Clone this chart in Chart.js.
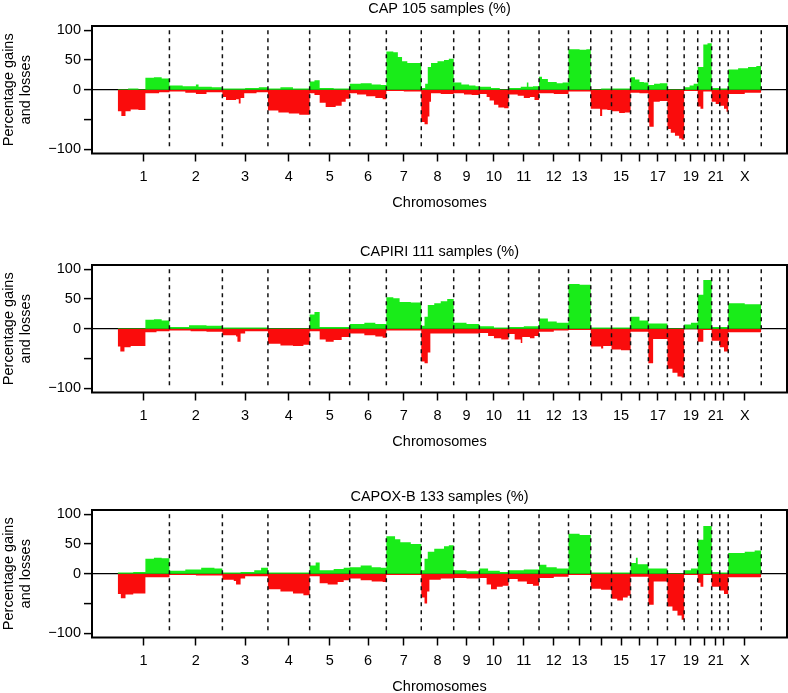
<!DOCTYPE html>
<html><head><meta charset="utf-8">
<script src="https://cdn.jsdelivr.net/npm/chart.js@4/dist/chart.umd.min.js"></script>
<style>
html,body{margin:0;padding:0;background:#fff;overflow:hidden;width:788px;height:693px;}
.panel{position:absolute;left:0;width:788px;height:212px;}
canvas{display:block;}
</style></head><body>
<div class="panel" style="top:0px"><canvas id="c1" width="788" height="212"></canvas></div>
<div class="panel" style="top:239px"><canvas id="c2" width="788" height="212"></canvas></div>
<div class="panel" style="top:484px"><canvas id="c3" width="788" height="212"></canvas></div>
<script>
// ---------- data ----------
const chromosomes = ['1','2','3','4','5','6','7','8','9','10','11','12','13','14','15','16','17','18','19','20','21','22','X'];
// genomic span of each chromosome on the plot (Mb)
const chromSpanMb = [244,250,215,197,189,173,165,153,121,138,144,139,105,98,90,84,90,79,64,66,38,40,156];
const xTickLabels = ['1','2','3','4','5','6','7','8','9','10','11','12','13','','15','','17','','19','','21','','X'];
const yTickValues = [-100,-50,0,50,100];
const yTickLabels = ['\u2212100','','0','50','100'];
const panelTitles = ['CAP 105 samples (%)','CAPIRI 111 samples (%)','CAPOX-B 133 samples (%)'];

// per chromosome: [relative position along chromosome (0-1), percentage] segments
const capGain = [
 [[0,1],[0.2,2],[0.4,1],[0.535,20],[0.7,21],[0.85,19]],
 [[0,7],[0.25,6],[0.5,9],[0.55,5],[0.8,4]],
 [[0,2],[0.5,3],[0.8,4]],
 [[0,2],[0.3,4],[0.6,2]],
 [[0,14],[0.12,16],[0.25,3],[0.6,2]],
 [[0,10],[0.3,11],[0.6,9],[0.85,8]],
 [[0,64],[0.2,63],[0.33,55],[0.45,48],[0.6,45]],
 [[0,3],[0.12,10],[0.2,38],[0.3,45],[0.5,48],[0.7,50],[0.85,52]],
 [[0,12],[0.3,9],[0.6,7],[0.85,6]],
 [[0,5],[0.4,3],[0.7,1]],
 [[0,3],[0.4,5],[0.6,12],[0.65,5],[0.8,6]],
 [[0,22],[0.1,18],[0.3,13],[0.6,11],[0.8,12]],
 [[0,68],[0.5,67],[0.8,68]],
 [[0,1],[0.5,2]],
 [[0,2]],
 [[0,21],[0.25,17],[0.5,13],[0.75,12]],
 [[0,8],[0.3,10],[0.6,11]],
 [[0,1]],
 [[0,4],[0.4,7],[0.7,10]],
 [[0,38],[0.4,76],[0.7,78]],
 [[0,3]],
 [[0,2]],
 [[0,34],[0.3,36],[0.6,38],[0.85,40]]
];
const capLoss = [
 [[0,-36],[0.07,-44],[0.15,-36],[0.25,-33],[0.4,-34],[0.535,-6],[0.8,-4]],
 [[0,-3],[0.3,-5],[0.5,-7],[0.7,-4]],
 [[0,-12],[0.08,-17],[0.3,-16],[0.36,-23],[0.4,-14],[0.48,-6],[0.75,-4]],
 [[0,-35],[0.25,-38],[0.5,-40],[0.75,-42]],
 [[0,-6],[0.12,-9],[0.25,-22],[0.4,-29],[0.65,-27],[0.8,-20],[0.9,-15]],
 [[0,-6],[0.2,-8],[0.45,-11],[0.7,-14],[0.9,-16]],
 [[0,-2],[0.5,-3]],
 [[0,-54],[0.1,-58],[0.2,-45],[0.25,-20],[0.3,-6],[0.6,-7]],
 [[0,-6],[0.4,-8],[0.7,-9]],
 [[0,-7],[0.25,-12],[0.35,-18],[0.5,-25],[0.65,-30],[0.85,-31]],
 [[0,-8],[0.3,-10],[0.5,-14],[0.7,-12],[0.85,-17]],
 [[0,-6],[0.5,-7]],
 [[0,-3]],
 [[0,-32],[0.45,-44],[0.55,-33],[0.8,-34]],
 [[0,-36],[0.4,-39],[0.7,-38]],
 [[0,-5],[0.5,-6]],
 [[0,-55],[0.05,-62],[0.28,-20],[0.6,-19]],
 [[0,-66],[0.2,-72],[0.45,-77],[0.7,-82],[0.85,-84]],
 [[0,-2]],
 [[0,-28],[0.2,-32],[0.4,-3]],
 [[0,-20],[0.5,-24]],
 [[0,-27],[0.5,-32],[0.8,-37]],
 [[0,-7],[0.5,-5]]
];
const capiriGain = [
 [[0,1],[0.535,15],[0.7,16],[0.85,14]],
 [[0,3],[0.37,6],[0.7,5]],
 [[0,2]],
 [[0,1]],
 [[0,24],[0.12,28],[0.25,3]],
 [[0,8],[0.4,10],[0.7,8]],
 [[0,53],[0.2,51],[0.38,45],[0.7,44]],
 [[0,5],[0.1,20],[0.2,40],[0.4,43],[0.6,46],[0.8,50]],
 [[0,10],[0.5,8]],
 [[0,4],[0.5,2]],
 [[0,3],[0.5,4]],
 [[0,17],[0.3,12],[0.6,10]],
 [[0,75],[0.5,74]],
 [[0,2]],
 [[0,2]],
 [[0,20],[0.5,14]],
 [[0,9]],
 [[0,1]],
 [[0,7],[0.5,10]],
 [[0,57],[0.4,82]],
 [[0,3]],
 [[0,3]],
 [[0,43],[0.5,41]]
];
const capiriLoss = [
 [[0,-30],[0.05,-38],[0.13,-31],[0.25,-29],[0.535,-6],[0.75,-4]],
 [[0,-3],[0.4,-4],[0.7,-5]],
 [[0,-11],[0.3,-13],[0.33,-22],[0.4,-8],[0.5,-4]],
 [[0,-25],[0.3,-28],[0.6,-29],[0.85,-27]],
 [[0,-4],[0.25,-18],[0.4,-22],[0.6,-19],[0.8,-14]],
 [[0,-8],[0.4,-11],[0.7,-13],[0.9,-15]],
 [[0,-3]],
 [[0,-55],[0.1,-58],[0.2,-40],[0.28,-8]],
 [[0,-8]],
 [[0,-7],[0.3,-12],[0.5,-16],[0.75,-18]],
 [[0,-9],[0.2,-18],[0.4,-24],[0.45,-14],[0.7,-16],[0.85,-12]],
 [[0,-5],[0.5,-3]],
 [[0,-2]],
 [[0,-30],[0.5,-33],[0.6,-29]],
 [[0,-35],[0.5,-36]],
 [[0,-5]],
 [[0,-58],[0.25,-17]],
 [[0,-67],[0.3,-74],[0.6,-80],[0.85,-82]],
 [[0,-1]],
 [[0,-22],[0.4,-2]],
 [[0,-20]],
 [[0,-31],[0.5,-38]],
 [[0,-6]]
];
const capoxGain = [
 [[0,2],[0.3,3],[0.535,25],[0.7,27],[0.85,26]],
 [[0,5],[0.3,7],[0.6,10],[0.85,9]],
 [[0,2],[0.4,3],[0.7,6],[0.85,10]],
 [[0,2]],
 [[0,14],[0.15,19],[0.25,6],[0.6,8],[0.85,10]],
 [[0,11],[0.3,14],[0.6,11],[0.85,10]],
 [[0,63],[0.25,58],[0.4,53],[0.7,50]],
 [[0,6],[0.1,25],[0.2,37],[0.4,42],[0.7,46],[0.85,48]],
 [[0,6],[0.5,4]],
 [[0,9],[0.3,5],[0.7,3]],
 [[0,6],[0.5,7]],
 [[0,15],[0.25,11],[0.6,9]],
 [[0,67],[0.5,65]],
 [[0,2]],
 [[0,2]],
 [[0,18],[0.3,27],[0.4,16]],
 [[0,9]],
 [[0,1]],
 [[0,6],[0.5,9]],
 [[0,57],[0.4,80]],
 [[0,3]],
 [[0,2]],
 [[0,35],[0.5,37],[0.8,39]]
];
const capoxLoss = [
 [[0,-34],[0.06,-41],[0.15,-35],[0.3,-33],[0.535,-6]],
 [[0,-2],[0.5,-3]],
 [[0,-10],[0.25,-12],[0.3,-18],[0.4,-8],[0.5,-4]],
 [[0,-26],[0.3,-30],[0.6,-33],[0.85,-36]],
 [[0,-4],[0.25,-16],[0.45,-18],[0.7,-14],[0.85,-11]],
 [[0,-8],[0.3,-11],[0.6,-13],[0.9,-14]],
 [[0,-2]],
 [[0,-40],[0.1,-50],[0.18,-30],[0.25,-10],[0.6,-8]],
 [[0,-7],[0.5,-8]],
 [[0,-7],[0.25,-18],[0.4,-26],[0.6,-22],[0.8,-20]],
 [[0,-9],[0.3,-13],[0.6,-17],[0.8,-20]],
 [[0,-7],[0.5,-5]],
 [[0,-2]],
 [[0,-25],[0.5,-27]],
 [[0,-42],[0.3,-45],[0.6,-40],[0.85,-37]],
 [[0,-5]],
 [[0,-52],[0.28,-13]],
 [[0,-55],[0.3,-62],[0.6,-70],[0.85,-77]],
 [[0,-2]],
 [[0,-15],[0.2,-22],[0.4,-2]],
 [[0,-22]],
 [[0,-28],[0.5,-34]],
 [[0,-6]]
];

// ---------- derived ----------
const chromStart = [];
let acc = 0;
chromSpanMb.forEach(s => { chromStart.push(acc); acc += s; });
const genomeTotal = acc;
const chromMid = chromSpanMb.map((s, i) => chromStart[i] + s / 2);
const chromEnd = chromSpanMb.map((s, i) => chromStart[i] + s);

function toSteps(series) {
  const pts = [];
  series.forEach((segs, i) => {
    segs.forEach(([f, v]) => pts.push({x: chromStart[i] + f * chromSpanMb[i], y: v}));
  });
  const lastSegs = series[series.length - 1];
  pts.push({x: genomeTotal, y: lastSegs[lastSegs.length - 1][1]});
  return pts;
}
function boundaryLines() {
  const pts = [];
  chromEnd.forEach(b => { pts.push({x: b, y: 100}, {x: b, y: -100}, {x: b, y: null}); });
  return pts;
}

const FONT = {family: "'Liberation Sans', Arial, Helvetica, sans-serif", size: 14.5, weight: 'normal', lineHeight: 1.2};
const GREEN = 'rgb(25,236,25)';
const RED = 'rgb(250,12,12)';

const framePlugin = {
  id: 'frame',
  afterDraw(chart) {
    const {ctx, chartArea: a} = chart;
    ctx.save();
    ctx.strokeStyle = '#000';
    ctx.lineWidth = 2;
    ctx.strokeRect(a.left, a.top, a.right - a.left, a.bottom - a.top);
    ctx.restore();
  }
};

function makeChart(id, title, gain, loss, titleTop) {
  new Chart(document.getElementById(id), {
    type: 'line',
    data: {
      datasets: [
        {data: boundaryLines(), borderColor: '#111', borderWidth: 1.5, borderDash: [4, 4],
         pointRadius: 0, fill: false, spanGaps: false, order: 0},
        {data: toSteps(gain), stepped: true, borderWidth: 0, borderColor: 'rgba(0,0,0,0)',
         backgroundColor: GREEN, fill: 'origin', pointRadius: 0, order: 1},
        {data: toSteps(loss), stepped: true, borderWidth: 0, borderColor: 'rgba(0,0,0,0)',
         backgroundColor: RED, fill: 'origin', pointRadius: 0, order: 1}
      ]
    },
    options: {
      responsive: false,
      animation: false,
      layout: {padding: {left: 0, right: 1, top: 0, bottom: 0}},
      plugins: {
        legend: {display: false},
        tooltip: {enabled: false},
        title: {display: true, fullSize: false, text: title, color: '#000', font: FONT,
                padding: {top: titleTop, bottom: 26 - 17.4 - titleTop}}
      },
      scales: {
        x: {
          type: 'linear',
          min: -0.04 * genomeTotal,
          max: 1.04 * genomeTotal,
          afterBuildTicks: s => { s.ticks = chromMid.map(v => ({value: v})); },
          afterFit: s => { s.height = 58.5; },
          ticks: {callback: (v, i) => xTickLabels[i], autoSkip: false, maxRotation: 0, minRotation: 0,
                  padding: 6.3, color: '#000', font: FONT},
          grid: {drawOnChartArea: false, drawTicks: true, tickLength: 8, tickColor: '#000', tickWidth: 1.5},
          border: {display: false},
          title: {display: true, text: 'Chromosomes', color: '#000', font: FONT, padding: {top: 0, bottom: 0}}
        },
        y: {
          min: -107,
          max: 107,
          z: 1,
          afterBuildTicks: s => { s.ticks = yTickValues.map(v => ({value: v})); },
          afterFit: s => { s.width = 92; },
          ticks: {callback: (v, i) => yTickLabels[i], autoSkip: false, padding: 3, color: '#000', font: FONT},
          grid: {
            color: c => (c.tick && c.tick.value === 0) ? '#000' : 'rgba(0,0,0,0)',
            lineWidth: 1.2, drawTicks: true, tickLength: 8, tickColor: '#000', tickWidth: 1.5
          },
          border: {display: false},
          title: {display: true, text: ['Percentage gains', 'and losses'], color: '#000', font: FONT,
                  padding: {top: 0, bottom: 0}}
        }
      }
    },
    plugins: [framePlugin]
  });
}

makeChart('c1', panelTitles[0], capGain, capLoss, 0);
makeChart('c2', panelTitles[1], capiriGain, capiriLoss, 4);
makeChart('c3', panelTitles[2], capoxGain, capoxLoss, 4);
</script>
</body></html>
